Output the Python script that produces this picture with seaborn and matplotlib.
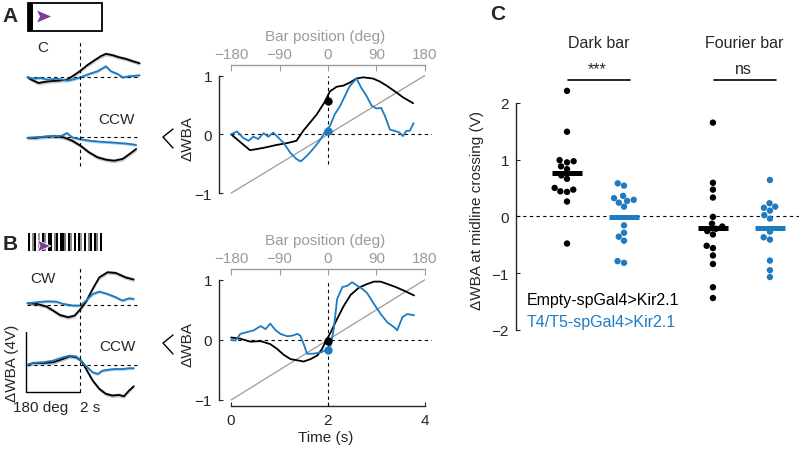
import numpy as np
import pandas as pd
import matplotlib
matplotlib.use('Agg')
import matplotlib.pyplot as plt
from matplotlib.patches import Rectangle, Polygon
import seaborn as sns

sns.set_style('ticks')
plt.rcParams['font.family'] = ['Liberation Sans', 'DejaVu Sans']
plt.rcParams['font.size'] = 11
plt.rcParams['axes.linewidth'] = 1.0

BLUE = '#1f7bc0'
LBLUE = '#a9cbe8'
GRAY = '#9b9b9b'
SHADE = '#c4c4c4'
PURPLE = '#7d3c98'

# ---- main traces, panel A (dark bar), time in s, normalised dWBA
a_black_t = [0.0, 0.39, 0.67, 0.94, 1.15, 1.35, 1.49, 1.63, 1.77, 1.94, 2.04, 2.18, 2.32, 2.45,
             2.59, 2.73, 2.93, 3.07, 3.21, 3.42, 3.55, 3.76]
a_black_v = [0.0, -0.27, -0.23, -0.18, -0.15, -0.11, 0.06, 0.2, 0.34, 0.56, 0.73, 0.81, 0.83, 0.88,
             0.95, 0.97, 0.95, 0.9, 0.83, 0.71, 0.63, 0.53]
a_blue_t = [0.0, 0.12, 0.25, 0.36, 0.46, 0.56, 0.67, 0.77, 0.87, 0.98, 1.08, 1.22, 1.35, 1.44, 1.56,
            1.66, 1.77, 1.87, 1.94, 2.04, 2.14, 2.25, 2.35, 2.45, 2.59, 2.69, 2.8, 2.9, 3.0, 3.1,
            3.18, 3.28, 3.38, 3.48, 3.55, 3.62, 3.69, 3.77]
a_blue_v = [0.0, 0.05, -0.06, -0.11, -0.04, -0.08, 0.02, -0.04, 0.03, -0.06, -0.14, -0.31, -0.42,
            -0.46, -0.37, -0.28, -0.17, -0.06, 0.05, 0.14, 0.34, 0.48, 0.65, 0.82, 0.95, 0.79, 0.65,
            0.49, 0.44, 0.45, 0.31, 0.08, 0.06, 0.03, -0.03, 0.06, 0.06, 0.19]

# ---- main traces, panel B (Fourier bar)
b_black_t = [0.0, 0.19, 0.4, 0.61, 0.81, 0.95, 1.09, 1.23, 1.37, 1.5, 1.64, 1.78, 1.88, 1.95, 2.06,
             2.19, 2.33, 2.47, 2.64, 2.81, 2.95, 3.09, 3.23, 3.4, 3.57, 3.78]
b_black_v = [0.04, 0.02, -0.03, -0.02, -0.07, -0.15, -0.25, -0.32, -0.34, -0.36, -0.32, -0.26, -0.15,
             -0.03, 0.13, 0.35, 0.57, 0.75, 0.87, 0.93, 0.97, 0.97, 0.93, 0.88, 0.82, 0.74]
b_blue_t = [0.0, 0.09, 0.19, 0.33, 0.47, 0.61, 0.71, 0.81, 0.92, 1.02, 1.16, 1.26, 1.37, 1.43, 1.5,
            1.57, 1.68, 1.78, 1.88, 1.95, 2.06, 2.12, 2.19, 2.3, 2.4, 2.5, 2.61, 2.71, 2.81, 2.95,
            3.09, 3.23, 3.37, 3.43, 3.54, 3.64, 3.78]
b_blue_v = [0.0, -0.01, 0.1, 0.13, 0.16, 0.23, 0.18, 0.27, 0.16, 0.1, 0.06, 0.07, 0.1, 0.07, -0.07,
            -0.23, -0.23, -0.22, -0.2, -0.17, -0.09, 0.18, 0.68, 0.88, 0.9, 0.96, 0.9, 0.85, 0.78,
            0.6, 0.43, 0.29, 0.21, 0.16, 0.38, 0.43, 0.41]

# value at midline crossing (t = 2 s)
mid_a = [0.56, 0.05]
mid_b = [-0.01, -0.17]

# ---- small traces (V), CW / CCW, panel A
sa_cw_black_t = [0.0, 0.15, 0.41, 0.79, 1.17, 1.49, 1.75, 2.0, 2.25, 2.51, 2.76, 2.96, 3.21, 3.46,
                 3.72, 3.97, 4.23]
sa_cw_black_v = [0.0, -0.16, -0.38, -0.27, -0.22, -0.16, 0.13, 0.44, 0.8, 1.11, 1.4, 1.56, 1.47,
                 1.33, 1.22, 1.07, 0.93]
sa_cw_blue_t = [0.0, 0.22, 0.47, 0.79, 1.11, 1.49, 1.68, 2.0, 2.32, 2.64, 2.96, 3.15, 3.4, 3.59,
                3.85, 4.23]
sa_cw_blue_v = [0.0, -0.09, -0.04, -0.16, -0.09, -0.22, -0.16, 0.0, 0.22, 0.4, 0.73, 0.4, 0.22,
                0.0, 0.07, 0.13]
sa_ccw_black_t = [0.0, 0.28, 0.66, 1.04, 1.36, 1.68, 2.0, 2.32, 2.64, 2.96, 3.27, 3.59, 3.85, 4.1]
sa_ccw_black_v = [-0.04, -0.04, 0.04, 0.07, 0.0, -0.22, -0.56, -1.0, -1.33, -1.49, -1.56, -1.44,
                  -1.11, -0.78]
sa_ccw_blue_t = [0.0, 0.28, 0.66, 1.04, 1.3, 1.49, 1.68, 1.94, 2.32, 2.7, 3.08, 3.46, 3.85, 4.1]
sa_ccw_blue_v = [-0.04, 0.0, 0.04, 0.07, 0.11, 0.29, 0.0, -0.11, -0.22, -0.29, -0.33, -0.38,
                 -0.44, -0.51]

# ---- small traces (V), panel B
sb_cw_black_t = [0.0, 0.35, 0.72, 0.97, 1.22, 1.53, 1.78, 2.0, 2.21, 2.46, 2.71, 3.02, 3.33, 3.7,
                 4.01]
sb_cw_black_v = [0.11, 0.07, -0.11, -0.38, -0.67, -0.82, -0.71, -0.27, 0.22, 1.07, 1.84, 2.18,
                 2.13, 1.84, 1.69]
sb_cw_blue_t = [0.0, 0.35, 0.72, 1.09, 1.34, 1.71, 2.0, 2.21, 2.46, 2.71, 3.02, 3.33, 3.58, 3.83,
                4.01]
sb_cw_blue_v = [0.11, 0.18, 0.24, 0.22, 0.07, -0.04, -0.04, 0.29, 0.73, 0.89, 0.73, 0.51, 0.29,
                0.44, 0.4]
sb_ccw_black_t = [0.0, 0.22, 0.6, 0.97, 1.34, 1.59, 1.84, 2.02, 2.21, 2.46, 2.71, 2.96, 3.2, 3.45,
                  3.64, 3.83, 4.01]
sb_ccw_black_v = [0.0, 0.13, 0.13, 0.18, 0.4, 0.58, 0.51, 0.29, -0.27, -1.04, -1.6, -1.93, -2.04,
                  -2.0, -2.09, -1.71, -1.42]
sb_ccw_blue_t = [0.0, 0.22, 0.6, 0.97, 1.34, 1.59, 1.84, 2.02, 2.21, 2.46, 2.65, 2.83, 3.08, 3.33,
                 3.58, 3.83, 4.01]
sb_ccw_blue_v = [0.0, 0.13, 0.18, 0.29, 0.51, 0.62, 0.56, 0.29, -0.09, -0.49, -0.6, -0.38, -0.31,
                 -0.27, -0.27, -0.22, -0.22]
sem_black, sem_blue = 0.13, 0.09

# ---- panel C: dWBA at midline crossing (V)
dark_empty = [2.21, 1.49, 0.99, 0.97, 0.95, 0.88, 0.83, 0.72, 0.66, 0.50, 0.47, 0.44, 0.43, 0.26, -0.48]
dark_t4t5 = [0.58, 0.54, 0.36, 0.32, 0.29, 0.27, 0.24, 0.17, -0.16, -0.29, -0.36, -0.43, -0.79, -0.82]
fourier_empty = [1.65, 0.59, 0.47, 0.33, -0.01, -0.13, -0.18, -0.22, -0.26, -0.32, -0.52, -0.56,
                 -0.69, -0.84, -1.25, -1.44]
fourier_t4t5 = [0.64, 0.23, 0.17, 0.15, 0.10, 0.02, -0.04, -0.27, -0.37, -0.41, -0.78, -0.95, -1.07]
stim_names = ['Dark bar', 'Fourier bar']
stars = ['***', 'ns']
genotypes = ['Empty-spGal4>Kir2.1', 'T4/T5-spGal4>Kir2.1']

# barcode stripes of the Fourier bar icon (0 black .. 1 white)
barcode = [0, 1, 0.55, 0, 1, 0.6, 1, 0, 0.5, 1, 0, 0, 1, 0.5, 0, 1, 0, 0, 0.45, 1, 0, 0.55, 1,
           0, 1, 0, 0.6, 1, 0, 1, 0.5, 0, 1, 0, 0.5, 1, 0]

W, H = 799, 452
fig = plt.figure(figsize=(W / 100, H / 100), dpi=100)


def box(x0, y0, x1, y1):
    return [x0 / W, 1 - y1 / H, (x1 - x0) / W, (y1 - y0) / H]


def main_panel(rect, bt, bv, ut, uv, mids, bottom, vtop, vbot):
    ax = fig.add_axes(rect)
    ax.plot([0, 4], [-1, 1], color=GRAY, lw=0.9)
    ax.plot([0, 4.15], [0, 0], color='k', ls=(0, (3, 3)), lw=0.8)
    ax.plot([2, 2], [vbot, vtop], color='k', ls=(0, (3, 3)), lw=0.8)
    sns.lineplot(x=bt, y=bv, color='k', lw=1.3, ax=ax)
    sns.lineplot(x=ut, y=uv, color=BLUE, lw=1.3, ax=ax)
    ax.plot(2, mids[0], 'o', color='k', ms=5)
    ax.plot(2, mids[1], 'o', color=BLUE, ms=5)
    ax.set_xlim(-0.25, 4.15)
    ax.set_ylim(-1.1, 1.18)
    sns.despine(ax=ax, top=True, right=True, bottom=not bottom)
    ax.spines['left'].set_bounds(-1, 1)
    ax.set_yticks([-1, 0, 1])
    ax.tick_params(direction='in', length=3, labelsize=11, pad=5)
    if bottom:
        ax.spines['bottom'].set_bounds(0, 4)
        ax.set_xticks([0, 2, 4])
        ax.set_xlabel('Time (s)', fontsize=11, labelpad=2)
    else:
        ax.set_xticks([])
    sec = ax.secondary_xaxis('top', functions=(lambda t: (t - 2) * 90, lambda d: d / 90 + 2))
    sec.set_xticks([-180, -90, 0, 90, 180])
    sec.spines['top'].set_bounds(-180, 180)
    sec.spines['top'].set_color(GRAY)
    sec.tick_params(direction='in', length=4, colors=GRAY, labelsize=11, pad=3)
    sec.set_xlabel('Bar position (deg)', color=GRAY, fontsize=11, labelpad=5)
    return ax


def small_panel(rect, ylim, traces):
    ax = fig.add_axes(rect)
    for off, (kt, kv, ut, uv) in zip([4, 0], traces):
        ax.plot([0, 4.2], [off, off], color='k', ls=(0, (3, 3)), lw=0.8)
        kv = np.array(kv) + off
        uv = np.array(uv) + off
        ax.fill_between(kt, kv - sem_black, kv + sem_black, color=SHADE, lw=0)
        ax.fill_between(ut, uv - sem_blue, uv + sem_blue, color=LBLUE, lw=0)
        sns.lineplot(x=kt, y=kv, color='k', lw=1.3, ax=ax)
        sns.lineplot(x=ut, y=uv, color=BLUE, lw=1.3, ax=ax)
    ax.set_xlim(-0.283, 4.434)
    ax.set_ylim(*ylim)
    ax.axis('off')
    return ax


axa = main_panel(box(219, 66, 432, 200), a_black_t, a_black_v, a_blue_t, a_blue_v, mid_a,
                 False, 1.0, -0.5)
axb = main_panel(box(219, 270, 432, 407), b_black_t, b_black_v, b_blue_t, b_blue_v, mid_b,
                 True, 1.0, -1.1)

sa = small_panel(box(20, 40, 145, 170), (-2.11, 6.55),
                 [(sa_cw_black_t, sa_cw_black_v, sa_cw_blue_t, sa_cw_blue_v),
                  (sa_ccw_black_t, sa_ccw_black_v, sa_ccw_blue_t, sa_ccw_blue_v)])
sa.plot([2, 2], [-1.91, 6.42], color='k', ls=(0, (3, 3)), lw=0.8)
sb = small_panel(box(20, 262, 145, 400), (-2.27, 6.93),
                 [(sb_cw_black_t, sb_cw_black_v, sb_cw_blue_t, sb_cw_blue_v),
                  (sb_ccw_black_t, sb_ccw_black_v, sb_ccw_blue_t, sb_ccw_blue_v)])
sb.plot([2, 2], [-1.8, 6.53], color='k', ls=(0, (3, 3)), lw=0.8)
sb.plot([-0.05, -0.05, 2.0], [2.2, -1.8, -1.8], color='k', lw=1.0, clip_on=False)

# ---- panel C
rows = []
for stim, vals_e, vals_t in [(stim_names[0], dark_empty, dark_t4t5),
                             (stim_names[1], fourier_empty, fourier_t4t5)]:
    rows += [(stim, genotypes[0], v) for v in vals_e]
    rows += [(stim, genotypes[1], v) for v in vals_t]
df = pd.DataFrame(rows, columns=['stim', 'genotype', 'val'])
stim_x = {stim_names[0]: 0.0, stim_names[1]: 2.56}
df['pos'] = df['stim'].map(stim_x) + (df['genotype'] == genotypes[1]).astype(float)

axc = fig.add_axes(box(516, 30, 799, 345))
axc.axhline(0, color='k', ls=(0, (3, 3)), lw=0.8)
sns.swarmplot(data=df, x='pos', y='val', hue='genotype', palette=['k', BLUE], native_scale=True,
              orient='v', size=4.6, ax=axc, legend=False, warn_thresh=1)
means = df.groupby(['pos', 'genotype'])['val'].mean().reset_index()
for _, r in means.iterrows():
    c = 'k' if r['genotype'] == genotypes[0] else BLUE
    axc.plot([r['pos'] - 0.26, r['pos'] + 0.26], [r['val'], r['val']], color=c, lw=3.6,
             solid_capstyle='butt', zorder=5)
for stim, s in zip(stim_names, stars):
    x0 = stim_x[stim]
    axc.text(x0 + 0.55, 3.06, stim, ha='center', va='center', fontsize=11.5)
    axc.text(x0 + 0.53, 2.6, s, ha='center', va='center', fontsize=11.5)
    axc.plot([x0 + 0.02, x0 + 1.1], [2.41, 2.41], color='k', lw=1.2, clip_on=False)
axc.text(-0.70, -1.46, genotypes[0], color='k', va='center', fontsize=11.5)
axc.text(-0.70, -1.85, genotypes[1], color=BLUE, va='center', fontsize=11.5)
axc.set_xlim(-0.895, 4.07)
axc.set_ylim(-2.25, 3.30)
sns.despine(ax=axc, bottom=True)
axc.spines['left'].set_bounds(-2, 2)
axc.set_yticks([-2, -1, 0, 1, 2])
axc.set_xticks([])
axc.set_xlabel('')
axc.set_ylabel('')
axc.tick_params(direction='in', length=3, labelsize=11, pad=5)

# ---- overlay for labels and icons (pixel coordinates)
ov = fig.add_axes([0, 0, 1, 1])
ov.set_xlim(0, W)
ov.set_ylim(H, 0)
ov.axis('off')
ov.patch.set_alpha(0)

for txt, x, y in [('A', 10, 17), ('B', 10, 245), ('C', 498, 15)]:
    ov.text(x, y, txt, fontsize=15, fontweight='bold', ha='center', va='center')
for txt, x, y in [('C', 43, 48), ('CCW', 116, 120), ('CW', 43, 279), ('CCW', 117, 347)]:
    ov.text(x, y, txt, fontsize=11, ha='center', va='center')
ov.text(12, 363, '\u0394WBA (4V)', rotation=90, fontsize=11, ha='center', va='center')
ov.text(41, 408, '180 deg', fontsize=11, ha='center', va='center')
ov.text(90, 408, '2 s', fontsize=11, ha='center', va='center')
ov.text(477, 210, '\u0394WBA at midline crossing (V)', rotation=90, fontsize=11,
        ha='center', va='center')
for dy in [0, 206]:
    ov.plot([173, 163, 173], [130 + dy, 138 + dy, 149 + dy], color='k', lw=1.0)
    ov.text(188, 139 + dy, '\u0394WBA', rotation=90, fontsize=11, ha='center', va='center')

# dark bar icon
ov.add_patch(Rectangle((28, 4), 74, 28, fill=False, ec='k', lw=1.3))
ov.add_patch(Rectangle((28, 4), 5, 28, fc='k', ec='none'))
ov.add_patch(Polygon([(37, 11.5), (51, 17.5), (37, 23.5), (40, 17.5)], fc=PURPLE, ec='none'))
# Fourier bar icon
ov.imshow(np.array([barcode]), cmap='gray', vmin=0, vmax=1, aspect='auto',
          extent=(28, 102, 252, 234), interpolation='nearest')
ov.add_patch(Polygon([(37, 241), (51, 247), (37, 253), (40, 247)], fc=PURPLE, ec='white', lw=0.6))
ov.set_xlim(0, W)
ov.set_ylim(H, 0)

fig.savefig('out.png', dpi=100)
